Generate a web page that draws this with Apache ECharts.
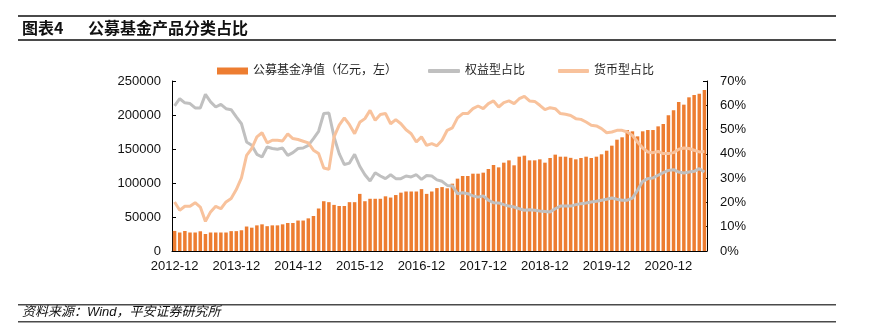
<!DOCTYPE html>
<html><head><meta charset="utf-8">
<script src="https://cdn.jsdelivr.net/npm/echarts@6/dist/echarts.min.js"></script>
<style>html,body{margin:0;padding:0;background:#fff;}#c{width:869px;height:329px;}</style>
</head><body><div id="c"></div>
<script>
// categories: monthly 2012-12 .. 2021-07
var categories = [];
(function(){ var y=2012,m=12; for(var i=0;i<104;i++){ categories.push(y+'-'+(m<10?'0'+m:m)); m++; if(m>12){m=1;y++;} } })();

var navValues = [29500,27200,29400,27200,27200,29000,25000,27200,27200,27200,27200,29200,29200,30500,36000,34300,37700,39200,36500,37700,37700,39200,41200,41200,44800,44800,48000,51500,62500,73200,71800,67800,66200,66200,71800,71800,84000,73200,76800,76800,76800,80400,78600,82300,85800,87500,87500,87500,91000,84000,87500,92500,94000,92200,99000,106400,110300,110300,113700,113700,115200,120600,126500,123000,129900,133300,126000,138700,140200,133300,133300,134800,129900,136800,141700,138700,138700,137000,134800,136800,138700,136800,138700,142200,147500,154900,163700,167200,177900,176000,168600,176000,177900,177900,183300,186800,199500,206900,219100,215200,226000,229400,231400,236800];

var equityShare = [59.8,62.7,61,60.7,58.9,58.9,64.5,61.4,59.3,60.4,58.6,58.2,55.2,52.4,44.9,43.5,39.8,38.7,42.8,42.2,41.9,42.4,39.4,40.5,42.2,42.4,43.5,46.3,49.3,56.6,56.8,47,40.1,35.6,36.2,39.8,34.9,31.4,28.8,32.2,30.9,29.8,31.4,29.8,29.8,30.9,30.5,31.4,29.5,31.1,30.9,29.3,28.7,27,26.8,23.6,24,23.6,22.7,22.2,22.7,20.9,19.9,19.8,19.1,18.5,18.1,17.4,16.8,17,16.8,16.5,16.3,16.1,17.4,18.5,18.5,18.5,19.1,19.5,19.8,20.2,20.5,20.9,21.3,21.8,21.3,20.9,20.9,21.8,25,28.7,29.8,30.1,31.2,32.3,33.2,33.5,32.5,32.1,32.5,32.8,33.9,32.5];

var moneyShare = [20.2,16.8,18.4,18.4,19.9,18.1,12.2,16.1,18.4,17.4,20.2,21.6,25.3,30.1,39.4,42.2,47,48.7,44.5,45.6,45.6,45.3,48.2,46.3,45.9,45.2,44.5,41.5,40.1,34.2,33.6,47,51.8,54.8,52,48.3,53,54.5,57.9,53.8,56.2,56.6,52.4,54.1,52.4,49.9,48.3,44.9,47,43.5,44.2,43.3,45.6,49.7,50.7,54.8,56.6,56.6,58.6,59.7,58.6,60.7,61.8,59.3,61.1,61.8,60.7,62.7,63.7,61.8,61.6,60,58.2,59,58.6,56.6,56.3,55.8,54.5,54.2,53.1,51.8,51.5,50.4,48.7,49,49.7,49.7,49,47.6,44.9,42.4,40.8,40.5,41,40.1,40.1,40.5,41.9,42.4,42.2,41.5,40.8,41];

var leftTicks = {min:0,max:250000,interval:50000};
var rightTicks = {min:0,max:70,interval:10};

var seriesNames = ['公募基金净值（亿元，左）','权益型占比','货币型占比'];
var titleLabel = '图表4';
var titleText = '公募基金产品分类占比';
var sourceText = '资料来源：Wind，平安证券研究所';

var cjk = '"Liberation Sans", Arial, "Noto Sans CJK SC", sans-serif';
var chart = echarts.init(document.getElementById('c'), null, {renderer:'canvas'});
var axisLineStyle = {color:'#000', width:1};
chart.setOption({
  animation:false,
  textStyle:{fontFamily:cjk},
  grid:{left:172, right:162, top:81, bottom:78},
  legend:[
    {data:[seriesNames[0]], left:212, top:60, itemWidth:31, itemHeight:7, itemGap:5, icon:'rect', textStyle:{fontSize:12, color:'#222', fontFamily:cjk}},
    {data:[seriesNames[1]], left:423, top:60, itemWidth:32, itemHeight:4, icon:'roundRect', textStyle:{fontSize:12, color:'#222', fontFamily:cjk}},
    {data:[seriesNames[2]], left:553, top:60, itemWidth:31, itemHeight:4, icon:'roundRect', textStyle:{fontSize:12, color:'#222', fontFamily:cjk}}
  ],
  xAxis:{type:'category', data:categories, boundaryGap:true,
    axisLine:{lineStyle:axisLineStyle},
    axisTick:{inside:true, length:4, interval:11, lineStyle:axisLineStyle},
    axisLabel:{interval:11, fontSize:13, color:'#111', margin:9, fontFamily:cjk},
    splitLine:{show:false}},
  yAxis:[
    {type:'value', min:leftTicks.min, max:leftTicks.max, interval:leftTicks.interval,
      axisLine:{show:true, lineStyle:axisLineStyle},
      axisTick:{show:true, inside:true, length:4, lineStyle:axisLineStyle},
      axisLabel:{fontSize:13, color:'#111', margin:11, fontFamily:cjk, formatter:function(v){return String(v);}},
      splitLine:{show:false}},
    {type:'value', min:rightTicks.min, max:rightTicks.max, interval:rightTicks.interval, position:'right',
      axisLine:{show:true, lineStyle:axisLineStyle},
      axisTick:{show:true, inside:true, length:4, lineStyle:axisLineStyle},
      axisLabel:{fontSize:13, color:'#111', margin:13, formatter:'{value}%', fontFamily:cjk},
      splitLine:{show:false}}
  ],
  series:[
    {name:seriesNames[0], type:'bar', data:navValues, yAxisIndex:0, barCategoryGap:'32%',
      itemStyle:{color:'#ED7D31'}},
    {name:seriesNames[1], type:'line', data:equityShare, yAxisIndex:1, symbol:'none', smooth:false,
      lineStyle:{color:'#C0C0C0', width:3}, itemStyle:{color:'#C0C0C0'}},
    {name:seriesNames[2], type:'line', data:moneyShare, yAxisIndex:1, symbol:'none', smooth:false,
      lineStyle:{color:'#F8C29C', width:3}, itemStyle:{color:'#F8C29C'}}
  ],
  graphic:[
    {type:'rect', shape:{x:18,y:15,width:818,height:2}, style:{fill:'#4a4a4a'}},
    {type:'rect', shape:{x:18,y:39,width:818,height:2}, style:{fill:'#4a4a4a'}},
    {type:'text', left:22, top:20, style:{text:titleLabel, font:'bold 16px "Noto Sans CJK SC", sans-serif', fill:'#111'}},
    {type:'text', left:88, top:20, style:{text:titleText, font:'bold 16px "Noto Sans CJK SC", sans-serif', fill:'#111'}},
    {type:'rect', shape:{x:18,y:304,width:818,height:1.5}, style:{fill:'#4a4a4a'}},
    {type:'rect', shape:{x:18,y:321,width:818,height:1.5}, style:{fill:'#4a4a4a'}},
    {type:'text', left:22, top:306, style:{text:sourceText, font:'italic 13px "Liberation Sans", "Noto Sans CJK SC", sans-serif', fill:'#111'}}
  ]
});
</script>
</body></html>
